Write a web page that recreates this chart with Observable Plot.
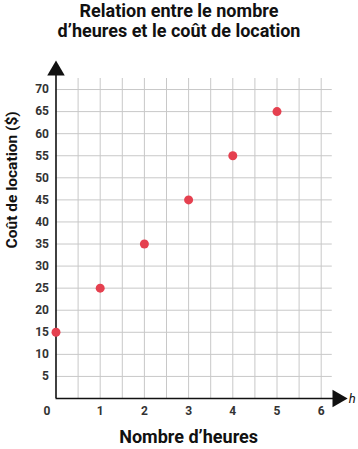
<!DOCTYPE html>
<html>
<head>
<meta charset="utf-8">
<script src="https://cdn.jsdelivr.net/npm/d3@7"></script>
<script src="https://cdn.jsdelivr.net/npm/@observablehq/plot@0.6"></script>
<style>
  html, body { margin: 0; padding: 0; background: #fff; }
  #title { width: 358px; text-align: center; font-family: Roboto, sans-serif; font-weight: 700; font-size: 18px; line-height: 20px; color: #111; padding-top: 1px; height: 43px; }
  svg { display: block; }
</style>
</head>
<body>
<div id="title">Relation entre le nombre<br>d’heures et le coût de location</div>
<div id="chart"></div>
<script>
const hours = [0, 1, 2, 3, 4, 5];
const costs = [15, 25, 35, 45, 55, 65];
const xTicks = [1, 2, 3, 4, 5, 6];
const yTicks = [5, 10, 15, 20, 25, 30, 35, 40, 45, 50, 55, 60, 65, 70];
const xGrid = [0.5, 1, 1.5, 2, 2.5, 3, 3.5, 4, 4.5, 5, 5.5, 6];
const xLabel = "Nombre d’heures";
const yLabel = "Coût de location ($)";
const xVar = "h";

const points = hours.map((h, i) => ({h, c: costs[i]}));
const font = "Roboto, sans-serif";

const chart = Plot.plot({
  width: 358,
  height: 405,
  marginLeft: 55.5,
  marginRight: 26.25,
  marginTop: 34,
  marginBottom: 51,
  style: {fontFamily: font, background: "#fff"},
  x: {domain: [0, 6.25], axis: null},
  y: {domain: [0, 72.5], axis: null},
  marks: [
    Plot.ruleX(xGrid, {x: d => d, y1: 0, y2: 72.5, stroke: "#c8c8c8", strokeWidth: 1}),
    Plot.ruleY(yTicks, {y: d => d, x1: 0, x2: 6.25, stroke: "#c8c8c8", strokeWidth: 1}),
    Plot.ruleX([0], {y1: 0, y2: 74, stroke: "#111", strokeWidth: 1.6}),
    Plot.ruleY([0], {x1: 0, x2: 6.3, stroke: "#111", strokeWidth: 1.6}),
    Plot.dot([0], {x: 0, y: 74.3, symbol: "triangle", r: 6.5, fill: "#111", stroke: "none"}),
    Plot.dot([0], {x: 6.37, y: 0, symbol: "triangle", r: 6.5, fill: "#111", stroke: "none", rotate: 90}),
    Plot.text(yTicks, {x: 0, y: d => d, text: d => String(d), textAnchor: "end", dx: -7, fontSize: 12, fontWeight: 700, fill: "#333"}),
    Plot.text(xTicks, {x: d => d, y: 0, text: d => String(d), dy: 13, fontSize: 12, fontWeight: 700, fill: "#333"}),
    Plot.text([0], {x: 0, y: 0, text: () => "0", dx: -9, dy: 13, fontSize: 12, fontWeight: 700, fill: "#333"}),
    Plot.text([xVar], {x: 6.25, y: 0, text: d => d, dx: 20, fontSize: 13, fontStyle: "italic", fill: "#111"}),
    Plot.text([xLabel], {x: 3, frameAnchor: "bottom", text: d => d, dy: 44, fontSize: 18, fontWeight: 700, fill: "#111"}),
    Plot.text([yLabel], {y: 34, frameAnchor: "left", text: d => d, dx: -43.5, rotate: -90, fontSize: 15.5, fontWeight: 700, fill: "#111"}),
    Plot.dot(points, {x: "h", y: "c", r: 4.5, fill: "#e5404f", stroke: "none"})
  ]
});
document.getElementById("chart").appendChild(chart);
</script>
</body>
</html>
